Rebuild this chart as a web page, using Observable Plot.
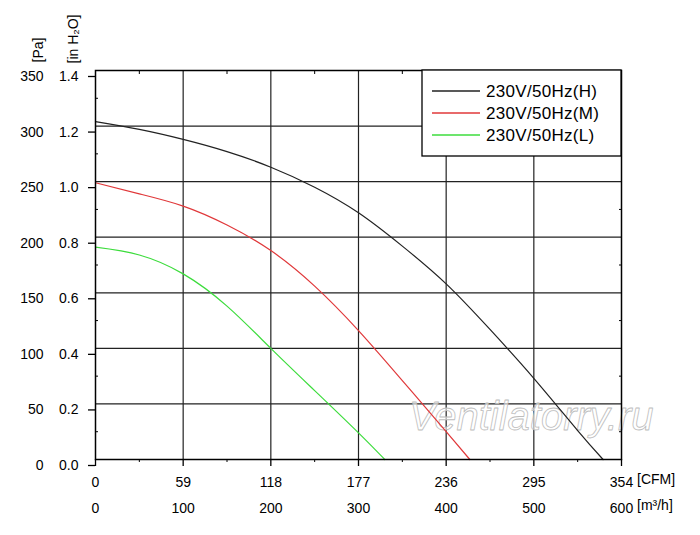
<!DOCTYPE html>
<html><head><meta charset="utf-8">
<script src="https://cdn.jsdelivr.net/npm/d3@7"></script>
<script src="https://cdn.jsdelivr.net/npm/@observablehq/plot@0.6"></script>
<style>
body{margin:0;background:#fff;}
#chart svg{font-family:"Liberation Sans",Arial,sans-serif;}
</style>
</head><body><div id="chart"></div>
<script>
// series
const seriesNames = ["230V/50Hz(H)", "230V/50Hz(M)", "230V/50Hz(L)"];
const seriesColors = ["#222222", "#e0383a", "#3cdc3c"];

// airflow [m³/h] and static pressure [Pa]
const flowH = [0, 50, 100, 150, 200, 250, 300, 350, 400, 450, 500, 550, 579];
const pressureH = [304, 297, 288, 277, 263, 245, 222, 192, 158, 117, 73, 26, 0];
const flowM = [0, 50, 100, 150, 200, 250, 300, 350, 400, 427];
const pressureM = [249, 239, 228, 211, 188, 156, 116, 71, 25, 0];
const flowL = [0, 50, 100, 150, 200, 250, 300, 330];
const pressureL = [191, 184, 167, 138, 100, 62, 24, 0];

// ticks
const flowTicks = [0, 100, 200, 300, 400, 500, 600];
const cfmLabels = ["0", "59", "118", "177", "236", "295", "354"];
const flowMinor = [50, 150, 250, 350, 450, 550];
const paTicks = [0, 50, 100, 150, 200, 250, 300, 350];
const inH2OLabels = ["0.0", "0.2", "0.4", "0.6", "0.8", "1.0", "1.2", "1.4"];
const paMinor = [25, 75, 125, 175, 225, 275, 325];
const watermark = "Ventilatorry.ru";

const curves = [
  ...flowH.map((f, i) => ({series: seriesNames[0], flow: f, pa: pressureH[i]})),
  ...flowM.map((f, i) => ({series: seriesNames[1], flow: f, pa: pressureM[i]})),
  ...flowL.map((f, i) => ({series: seriesNames[2], flow: f, pa: pressureL[i]}))
];

const gridStyle = {stroke: "#222", strokeOpacity: 1, strokeWidth: 1.2};
const noLabel = () => "";

const plot = Plot.plot({
  width: 700,
  height: 535,
  marginLeft: 95,
  marginRight: 79,
  marginTop: 70,
  marginBottom: 76,
  style: {fontFamily: "'Liberation Sans', Arial, sans-serif", fontSize: "14px", color: "#000", background: "#fff"},
  x: {domain: [0, 600]},
  y: {domain: [0, 350]},
  color: {domain: seriesNames, range: seriesColors},
  marks: [
    Plot.gridX(flowTicks.slice(1, -1), gridStyle),
    Plot.gridY(paTicks.slice(1, -1), gridStyle),
    Plot.text([watermark], {frameAnchor: "bottom-right", dx: 32, dy: -30, textAnchor: "end", lineAnchor: "bottom",
      fontSize: 40, fontStyle: "italic", fill: "white", fillOpacity: 0.6, stroke: "#bdbdbd", strokeWidth: 0.8, paintOrder: "fill"}),
    Plot.line(curves, {x: "flow", y: "pa", z: "series", stroke: "series", curve: "natural", strokeWidth: 1.2}),
    Plot.frame({stroke: "#000", strokeWidth: 1.5}),
    // bottom axis: major ticks + CFM labels
    Plot.axisX(flowTicks, {anchor: "bottom", tickSize: 7, tickPadding: 11, strokeWidth: 1.3,
      tickFormat: d => cfmLabels[flowTicks.indexOf(d)], fontSize: 14, label: null}),
    // bottom axis: m³/h labels
    Plot.axisX(flowTicks, {anchor: "bottom", tickSize: 0, tickPadding: 44, tickFormat: d => String(d), fontSize: 14, label: null}),
    // minor ticks
    Plot.axisX(flowMinor, {anchor: "bottom", tickSize: 3, tickFormat: noLabel, label: null}),
    Plot.axisX(flowMinor, {anchor: "top", tickSize: -3, tickFormat: noLabel, label: null}),
    // left axis: Pa labels and inH2O labels with major ticks
    Plot.axisY(paTicks, {anchor: "left", tickSize: 0, tickPadding: 52, dy: 6, tickFormat: d => String(d), fontSize: 14, label: null}),
    Plot.axisY(paTicks, {anchor: "left", tickSize: 7, tickPadding: 10, dy: 6, strokeWidth: 1.3,
      tickFormat: d => inH2OLabels[paTicks.indexOf(d)], fontSize: 14, label: null}),
    Plot.axisY(paMinor, {anchor: "left", tickSize: -3, tickFormat: noLabel, label: null}),
    Plot.axisY(paMinor, {anchor: "right", tickSize: -3, tickFormat: noLabel, label: null}),
    // unit labels
    Plot.text(["[CFM]"], {frameAnchor: "bottom-right", dx: 15.5, dy: 24.5, textAnchor: "start", fontSize: 14}),
    Plot.text(["[m³/h]"], {frameAnchor: "bottom-right", dx: 15.5, dy: 50.5, textAnchor: "start", fontSize: 14}),
    Plot.text(["[Pa]"], {frameAnchor: "top-left", dx: -62, dy: -8, rotate: -90, textAnchor: "start", fontSize: 14}),
    Plot.text(["[in H₂O]"], {frameAnchor: "top-left", dx: -27, dy: -7, rotate: -90, textAnchor: "start", fontSize: 14})
  ]
});

// legend in the top-right corner of the frame
const xs = plot.scale("x"), ys = plot.scale("y");
const frameRight = xs.apply(600), frameTop = ys.apply(350);
const lg = d3.select(plot).append("g").attr("text-anchor", "start");
lg.append("rect").attr("x", frameRight - 199).attr("y", frameTop).attr("width", 199).attr("height", 86)
  .attr("fill", "#fff").attr("stroke", "#000").attr("stroke-width", 1.3);
seriesNames.forEach((name, i) => {
  const yy = frameTop + 21 + i * 22;
  lg.append("line").attr("x1", frameRight - 189).attr("x2", frameRight - 141).attr("y1", yy).attr("y2", yy)
    .attr("stroke", seriesColors[i]).attr("stroke-width", 1.3);
  lg.append("text").attr("x", frameRight - 135).attr("y", yy + 6).attr("font-size", 17).attr("letter-spacing", 0.3)
    .attr("text-anchor", "start").attr("fill", "#000").text(name);
});

document.getElementById("chart").appendChild(plot);
</script>
</body></html>
